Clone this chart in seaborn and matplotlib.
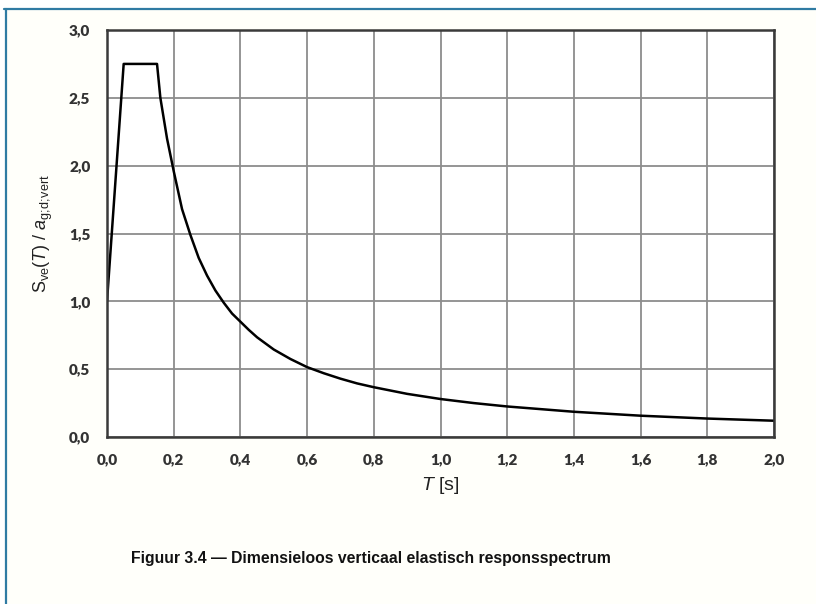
import matplotlib
matplotlib.use("Agg")
import matplotlib.pyplot as plt
from matplotlib.lines import Line2D
from matplotlib.patches import Rectangle
from matplotlib.ticker import FuncFormatter
import seaborn as sns
import pandas as pd

# periode T [s] en waarden
periods = [0.0, 0.05, 0.15, 0.16, 0.18, 0.20, 0.225, 0.25, 0.275, 0.30, 0.325, 0.35,
           0.375, 0.40, 0.425, 0.45, 0.475, 0.50, 0.55, 0.60, 0.65, 0.70, 0.75, 0.80,
           0.90, 1.00, 1.10, 1.20, 1.40, 1.60, 1.80, 2.00]
spectrum = [1.00, 2.75, 2.75, 2.50, 2.20, 1.96, 1.68, 1.49, 1.32, 1.19, 1.08, 0.99,
            0.91, 0.85, 0.79, 0.735, 0.69, 0.645, 0.575, 0.515, 0.47, 0.43, 0.395, 0.367,
            0.318, 0.28, 0.25, 0.225, 0.186, 0.157, 0.136, 0.12]
x_ticks = [0.0, 0.2, 0.4, 0.6, 0.8, 1.0, 1.2, 1.4, 1.6, 1.8, 2.0]
y_ticks = [0.0, 0.5, 1.0, 1.5, 2.0, 2.5, 3.0]
caption = "Figuur 3.4 \u2014 Dimensieloos verticaal elastisch responsspectrum"

df = pd.DataFrame({"T": periods, "S": spectrum})

sns.set_style("white")
plt.rcParams['font.family'] = ['Liberation Sans', 'DejaVu Sans']
plt.rcParams['mathtext.fontset'] = 'custom'
plt.rcParams['mathtext.rm'] = 'Liberation Sans'
plt.rcParams['mathtext.it'] = 'Liberation Sans:italic'

fig = plt.figure(figsize=(8.16, 6.04), dpi=100, facecolor='white')

# kader rond de figuur
fig.add_artist(Rectangle((5/816, 0), 1, 1 - 8/604, transform=fig.transFigure,
                         facecolor='#fffffa', edgecolor='none', zorder=-10))
fig.add_artist(Line2D([4/816, 1], [1 - 8.5/604, 1 - 8.5/604], transform=fig.transFigure,
                      color='#2f7ba3', lw=1.6))
fig.add_artist(Line2D([5.5/816, 5.5/816], [0, 1 - 8.5/604], transform=fig.transFigure,
                      color='#2f7ba3', lw=1.6))

ax = fig.add_axes([107/816, 1 - 437/604, 667/816, 407/604])
ax.set_facecolor('white')
sns.lineplot(data=df, x="T", y="S", ax=ax, color='black', lw=1.8)

ax.set_xlim(0, 2.0)
ax.set_ylim(0, 3.0)
ax.set_xticks(x_ticks)
ax.set_yticks(y_ticks)
fmt = FuncFormatter(lambda v, p: f"{v:.1f}".replace('.', ','))
ax.xaxis.set_major_formatter(fmt)
ax.yaxis.set_major_formatter(fmt)
ax.grid(True, color='#8c8c8c', lw=1.3)
ax.set_axisbelow(True)
for s in ax.spines.values():
    s.set_color('#3a3a3a')
    s.set_linewidth(1.8)
ax.tick_params(length=0, pad=12, labelsize=11, labelcolor='#333333')
for lbl in ax.get_xticklabels() + ax.get_yticklabels():
    lbl.set_fontfamily('Lato')
    lbl.set_fontweight('heavy')

ax.set_xlabel("$T$ [s]", fontsize=14, color='#222222', labelpad=6)
ax.set_ylabel(r"S$_{\rm ve}$($T$) / $a_{\rm g;\!d;\!vert}$", fontsize=13, color='#222222', labelpad=10)

fig.text(371/816, 1 - 558/604, caption, ha='center', va='center',
         fontsize=11.3, fontweight='bold', color='#111111')

fig.savefig("out.png", dpi=100, facecolor=fig.get_facecolor())
